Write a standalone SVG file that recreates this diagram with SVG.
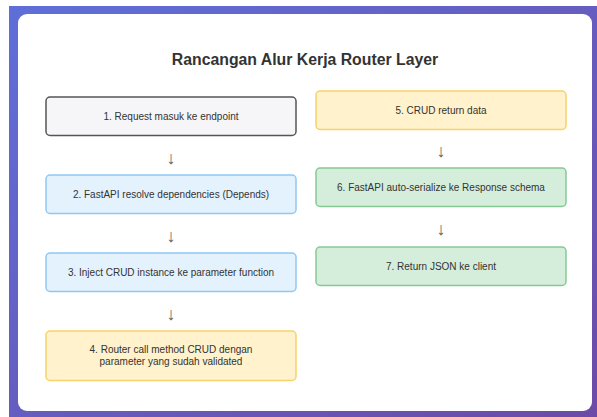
<svg xmlns="http://www.w3.org/2000/svg" width="597" height="417" viewBox="0 0 597 417">
<defs>
<linearGradient id="bg" x1="0" y1="0" x2="1" y2="1">
<stop offset="0" stop-color="#5f6fd8"/>
<stop offset="1" stop-color="#6c4aa6"/>
</linearGradient>
</defs>
<style>
.box{stroke-width:1.5}
.gray{fill:#f6f6f8;stroke:#555}
.blue{fill:#e3f2fd;stroke:#90c8f5}
.yellow{fill:#fff2cc;stroke:#f5d36a}
.green{fill:#d5eddb;stroke:#86c995}
.lbl{font-family:"Liberation Sans",Arial,sans-serif;font-size:10px;fill:#333;text-anchor:middle}
.arr{font-family:"Liberation Sans",Arial,sans-serif;font-size:18px;fill:#666;text-anchor:middle}
.title{font-family:"Liberation Sans",Arial,sans-serif;font-size:15.8px;font-weight:bold;fill:#333;text-anchor:middle}
</style>
<rect x="0" y="0" width="597" height="417" fill="#ffffff"/>
<rect x="9" y="6" width="600" height="420" fill="url(#bg)"/>
<rect x="18" y="14" width="574" height="397" rx="9" fill="#ffffff"/>
<text class="title" x="305" y="65">Rancangan Alur Kerja Router Layer</text>
<g id="n1"><rect class="box gray" x="46" y="97" width="250" height="38.5" rx="4"/><text class="lbl" x="171" y="120">1. Request masuk ke endpoint</text></g>
<g id="n2"><rect class="box blue" x="46" y="175" width="250" height="38.5" rx="4"/><text class="lbl" x="171" y="198">2. FastAPI resolve dependencies (Depends)</text></g>
<g id="n3"><rect class="box blue" x="46" y="253" width="250" height="38.5" rx="4"/><text class="lbl" x="171" y="276">3. Inject CRUD instance ke parameter function</text></g>
<g id="n4"><rect class="box yellow" x="46" y="331" width="250" height="49.5" rx="4"/><text class="lbl" x="171" y="353">4. Router call method CRUD dengan</text><text class="lbl" x="171" y="365">parameter yang sudah validated</text></g>
<g id="n5"><rect class="box yellow" x="316" y="91" width="250" height="38.5" rx="4"/><text class="lbl" x="441" y="114">5. CRUD return data</text></g>
<g id="n6"><rect class="box green" x="316" y="168" width="250" height="38.5" rx="4"/><text class="lbl" x="441" y="191">6. FastAPI auto-serialize ke Response schema</text></g>
<g id="n7"><rect class="box green" x="316" y="247" width="250" height="38.5" rx="4"/><text class="lbl" x="441" y="270">7. Return JSON ke client</text></g>
<g id="connectors">
<text class="arr" x="171" y="164">↓</text>
<text class="arr" x="171" y="242">↓</text>
<text class="arr" x="171" y="320">↓</text>
<text class="arr" x="441" y="157">↓</text>
<text class="arr" x="441" y="235">↓</text>
</g>
</svg>
